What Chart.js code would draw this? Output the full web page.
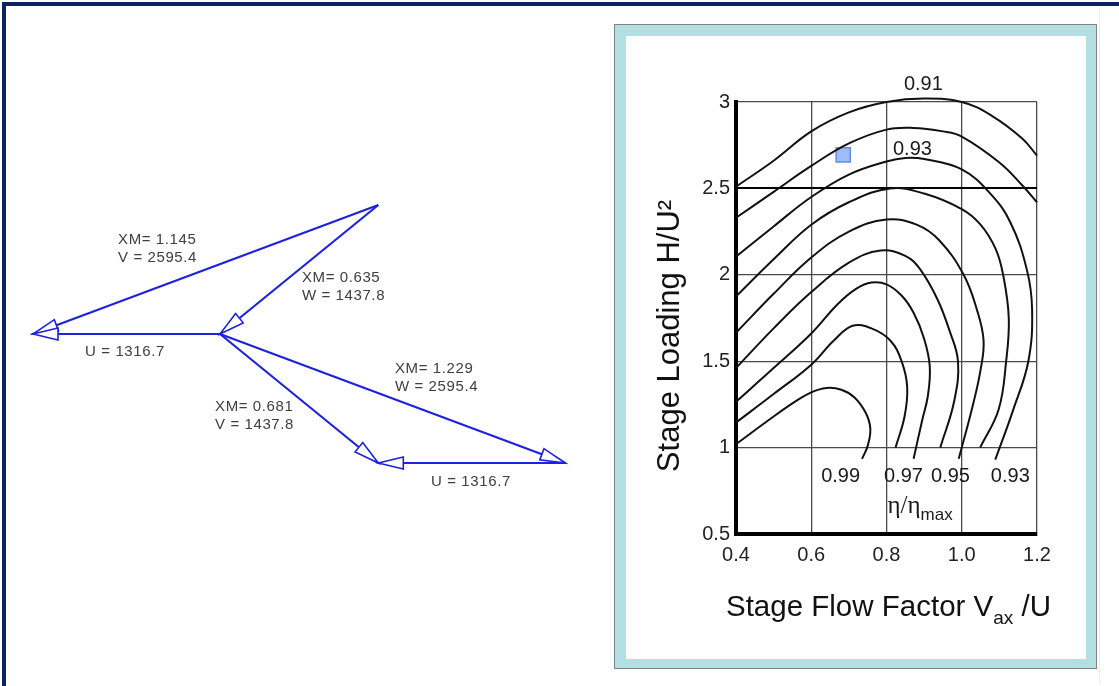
<!DOCTYPE html>
<html>
<head>
<meta charset="utf-8">
<script src="https://cdn.jsdelivr.net/npm/chart.js@4.4.1/dist/chart.umd.min.js"></script>
<style>
  html, body { margin: 0; padding: 0; background: #fff; }
  body { width: 1119px; height: 686px; position: relative; overflow: hidden; }
  #frame { position: absolute; left: 2px; top: 2px; width: 1117px; height: 684px; box-sizing: border-box;
           border-top: 4px solid #0c2362; border-left: 4px solid #0c2362; }
  #edge { position: absolute; left: 1099px; top: 8px; width: 1px; height: 676px; background: #ececec; }
  #triangles { position: absolute; left: 0; top: 0; }
  #box { position: absolute; left: 614px; top: 24px; width: 483px; height: 645px; box-sizing: border-box;
         border: 1px solid #7d8587; background: #b3dfe2; }
  #inner { position: absolute; left: 11px; top: 11px; width: 460px; height: 623px; background: #fff; }
  #smith { position: absolute; left: 0; top: 0; }
</style>
</head>
<body>
<div id="frame"></div>
<div id="edge"></div>
<canvas id="triangles" width="610" height="686"></canvas>
<div id="box"><div id="inner"><canvas id="smith" width="460" height="623"></canvas></div></div>

<script>
Chart.defaults.font.family = "'Liberation Sans', Arial, sans-serif";

// ---- velocity triangles (tangential, axial components) ----
const inletU  = [[0, 0], [-1316.7, 0]];
const inletV  = [[1114.6, 908.3], [-1316.7, 0]];
const inletW  = [[1114.6, 908.3], [0, 0]];
const exitV   = [[0, 0], [1114.6, -908.3]];
const exitW   = [[0, 0], [2431.3, -908.3]];
const exitU   = [[2431.3, -908.3], [1114.6, -908.3]];

const triLabels = [
    { lines: ['XM= 1.145', 'V = 2595.4'], x: -718, y: 662 },
    { lines: ['XM= 0.635', 'W = 1437.8'], x: 577, y: 394 },
    { lines: ['U = 1316.7'], x: -950, y: -127 },
    { lines: ['XM= 0.681', 'V = 1437.8'], x: -35, y: -514 },
    { lines: ['XM= 1.229', 'W = 2595.4'], x: 1232, y: -246 },
    { lines: ['U = 1316.7'], x: 1486, y: -1042 }
];

// ---- eta/eta_max contours (flow factor, loading) ----
const flowTicks = [0.4, 0.6, 0.8, 1.0, 1.2];
const loadTicks = [0.5, 1, 1.5, 2, 2.5, 3];

const eta99 = [[0.4,1.02],[0.5,1.18],[0.56,1.27],[0.6,1.32],[0.64,1.345],[0.68,1.335],[0.715,1.29],[0.745,1.2],[0.757,1.11],[0.75,1.01],[0.735,0.935]];
const eta98 = [[0.4,1.145],[0.5,1.31],[0.6,1.48],[0.66,1.62],[0.71,1.705],[0.76,1.69],[0.81,1.62],[0.84,1.5],[0.855,1.35],[0.848,1.18],[0.824,1.0]];
const eta97 = [[0.4,1.265],[0.5,1.46],[0.6,1.66],[0.67,1.83],[0.72,1.92],[0.76,1.955],[0.8,1.945],[0.84,1.88],[0.872,1.78],[0.9,1.63],[0.915,1.47],[0.91,1.3],[0.895,1.16],[0.872,0.935]];
const eta96 = [[0.4,1.46],[0.5,1.69],[0.6,1.9],[0.7,2.07],[0.784,2.14],[0.85,2.11],[0.89,2.03],[0.935,1.86],[0.967,1.68],[0.99,1.5],[0.98,1.27],[0.943,1.0]];
const eta95 = [[0.4,1.665],[0.5,1.89],[0.6,2.1],[0.7,2.25],[0.8,2.32],[0.88,2.29],[0.94,2.2],[1.005,2.0],[1.04,1.8],[1.058,1.62],[1.05,1.45],[1.03,1.25],[0.992,0.935]];
const eta94 = [[0.4,1.875],[0.5,2.09],[0.6,2.29],[0.7,2.42],[0.81,2.5],[0.9,2.47],[1.0,2.38],[1.05,2.29],[1.09,2.15],[1.11,2.0],[1.125,1.75],[1.118,1.5],[1.098,1.22],[1.049,1.0]];
const eta93 = [[0.4,2.105],[0.5,2.28],[0.6,2.45],[0.7,2.58],[0.8,2.656],[0.85,2.676],[0.9,2.67],[1.0,2.61],[1.076,2.47],[1.13,2.3],[1.173,2.03],[1.187,1.8],[1.177,1.5],[1.137,1.22],[1.089,0.93]];
const eta92 = [[0.4,2.33],[0.5,2.48],[0.6,2.63],[0.7,2.76],[0.8,2.84],[0.87,2.85],[0.95,2.83],[1.0,2.8],[1.1,2.65],[1.16,2.52],[1.2,2.42]];
const eta91 = [[0.4,2.51],[0.5,2.66],[0.6,2.83],[0.7,2.94],[0.8,3.0],[0.9,3.02],[1.0,3.0],[1.08,2.92],[1.16,2.79],[1.2,2.69]];

const designPoint = [[0.685, 2.694]];

const contourLabels = [
    { text: '0.91', x: 0.898, y: 3.1 },
    { text: '0.93', x: 0.869, y: 2.723 },
    { text: '0.99', x: 0.678, y: 0.83 },
    { text: '0.97', x: 0.845, y: 0.83 },
    { text: '0.95', x: 0.97, y: 0.83 },
    { text: '0.93', x: 1.129, y: 0.83 }
];

const toXY = arr => arr.map(p => ({ x: p[0], y: p[1] }));

// ---------- left: velocity triangles ----------
const BLUE = '#1e22dc';

const arrowHeads = {
    id: 'arrowHeads',
    afterDatasetsDraw(chart) {
        const ctx = chart.ctx;
        chart.data.datasets.forEach((ds, i) => {
            const pts = chart.getDatasetMeta(i).data;
            const a = pts[pts.length - 2], b = pts[pts.length - 1];
            const ang = Math.atan2(b.y - a.y, b.x - a.x);
            ctx.save();
            ctx.translate(b.x, b.y);
            ctx.rotate(ang);
            ctx.beginPath();
            ctx.moveTo(0, 0);
            ctx.lineTo(-25, -6);
            ctx.lineTo(-25, 6);
            ctx.closePath();
            ctx.fillStyle = '#fff';
            ctx.fill();
            ctx.strokeStyle = BLUE;
            ctx.lineWidth = 1.6;
            ctx.stroke();
            ctx.restore();
        });
    }
};

const triText = {
    id: 'triText',
    afterDraw(chart) {
        const ctx = chart.ctx;
        const sx = chart.scales.x, sy = chart.scales.y;
        ctx.save();
        ctx.font = "15px 'Liberation Sans', Arial, sans-serif";
        ctx.letterSpacing = '0.6px';
        ctx.fillStyle = '#404040';
        ctx.textBaseline = 'middle';
        ctx.textAlign = 'left';
        triLabels.forEach(l => {
            const px = sx.getPixelForValue(l.x);
            const py = sy.getPixelForValue(l.y);
            l.lines.forEach((t, k) => ctx.fillText(t, px, py + k * 18));
        });
        ctx.restore();
    }
};

const vecStyle = { showLine: true, borderColor: BLUE, borderWidth: 2.2, pointRadius: 0, clip: false, tension: 0 };
const K = 1316.7 / 187;   // velocity units per pixel

new Chart(document.getElementById('triangles'), {
    type: 'scatter',
    data: {
        datasets: [inletV, inletW, inletU, exitV, exitW, exitU].map(v => ({ ...vecStyle, data: toXY(v) }))
    },
    options: {
        responsive: false,
        animation: false,
        layout: { padding: 0 },
        plugins: { legend: { display: false }, tooltip: { enabled: false } },
        scales: {
            x: { display: false, min: -220 * K, max: 390 * K },
            y: { display: false, min: -352 * K, max: 334 * K }
        }
    },
    plugins: [arrowHeads, triText]
});

// ---------- right: stage loading vs flow factor ----------
const FONT = "'Liberation Sans', Arial, sans-serif";

const smithText = {
    id: 'smithText',
    afterDraw(chart) {
        const ctx = chart.ctx;
        const sx = chart.scales.x, sy = chart.scales.y;
        const area = chart.chartArea;
        ctx.save();
        ctx.fillStyle = '#1a1a1a';
        ctx.textBaseline = 'middle';
        ctx.textAlign = 'center';
        ctx.font = '20px ' + FONT;
        contourLabels.forEach(l => ctx.fillText(l.text, sx.getPixelForValue(l.x), sy.getPixelForValue(l.y)));

        // eta / eta_max
        ctx.textAlign = 'left';
        ctx.textBaseline = 'alphabetic';
        let ex = sx.getPixelForValue(0.8) + 1;
        const ey = sy.getPixelForValue(0.62);
        ctx.font = "25px 'Liberation Serif', 'Times New Roman', serif";
        ctx.fillText('\u03b7/\u03b7', ex, ey);
        ex += ctx.measureText('\u03b7/\u03b7').width;
        ctx.font = '17px ' + FONT;
        ctx.fillText('max', ex, ey + 7);

        // x title with subscript
        ctx.fillStyle = '#111';
        const big = '29.5px ' + FONT, small = '19px ' + FONT;
        const parts = [['Stage Flow Factor V', big, 0], ['ax', small, 8], [' /U', big, 0]];
        let w = 0;
        parts.forEach(p => { ctx.font = p[1]; w += ctx.measureText(p[0]).width; });
        let tx = (area.left + area.right) / 2 + 2 - w / 2;
        const ty = 580;
        parts.forEach(p => {
            ctx.font = p[1];
            ctx.fillText(p[0], tx, ty + p[2]);
            tx += ctx.measureText(p[0]).width;
        });

        // y title
        ctx.save();
        ctx.translate(44, 300);
        ctx.rotate(-Math.PI / 2);
        ctx.textAlign = 'center';
        ctx.textBaseline = 'middle';
        ctx.font = '31px ' + FONT;
        ctx.fillText('Stage Loading H/U\u00b2', 0, 0);
        ctx.restore();
        ctx.restore();
    }
};

const curveStyle = { showLine: true, borderColor: '#111', borderWidth: 2, pointRadius: 0, tension: 0.4, clip: false };
const contours = [eta99, eta98, eta97, eta96, eta95, eta94, eta93, eta92, eta91];

new Chart(document.getElementById('smith'), {
    type: 'scatter',
    data: {
        datasets: [
            ...contours.map(c => ({ ...curveStyle, data: toXY(c) })),
            {
                data: toXY(designPoint),
                pointStyle: 'rect',
                pointRadius: 10,
                backgroundColor: 'rgba(140,178,244,0.85)',
                borderColor: '#6a88e6',
                borderWidth: 1.5
            }
        ]
    },
    options: {
        responsive: false,
        animation: false,
        layout: { padding: { top: 66, right: 49, left: 0, bottom: 0 } },
        plugins: { legend: { display: false }, tooltip: { enabled: false } },
        scales: {
            x: {
                min: 0.4, max: 1.2,
                afterBuildTicks: s => { s.ticks = flowTicks.map(v => ({ value: v })); },
                afterFit: s => { s.height = 125; },
                ticks: { callback: v => v.toFixed(1), color: '#222', font: { size: 20 }, padding: 9 },
                grid: { color: '#4a4a4a', lineWidth: 1.3, drawTicks: false },
                border: { color: '#000', width: 4 }
            },
            y: {
                min: 0.5, max: 3,
                afterBuildTicks: s => { s.ticks = loadTicks.map(v => ({ value: v })); },
                afterFit: s => { s.width = 110; },
                ticks: { callback: v => String(v), color: '#222', font: { size: 20 }, padding: 6 },
                grid: {
                    color: c => c.tick && c.tick.value === 2.5 ? '#000' : '#4a4a4a',
                    lineWidth: c => c.tick && c.tick.value === 2.5 ? 2 : 1.3,
                    drawTicks: false
                },
                border: { color: '#000', width: 4 }
            }
        }
    },
    plugins: [smithText]
});
</script>
</body>
</html>
